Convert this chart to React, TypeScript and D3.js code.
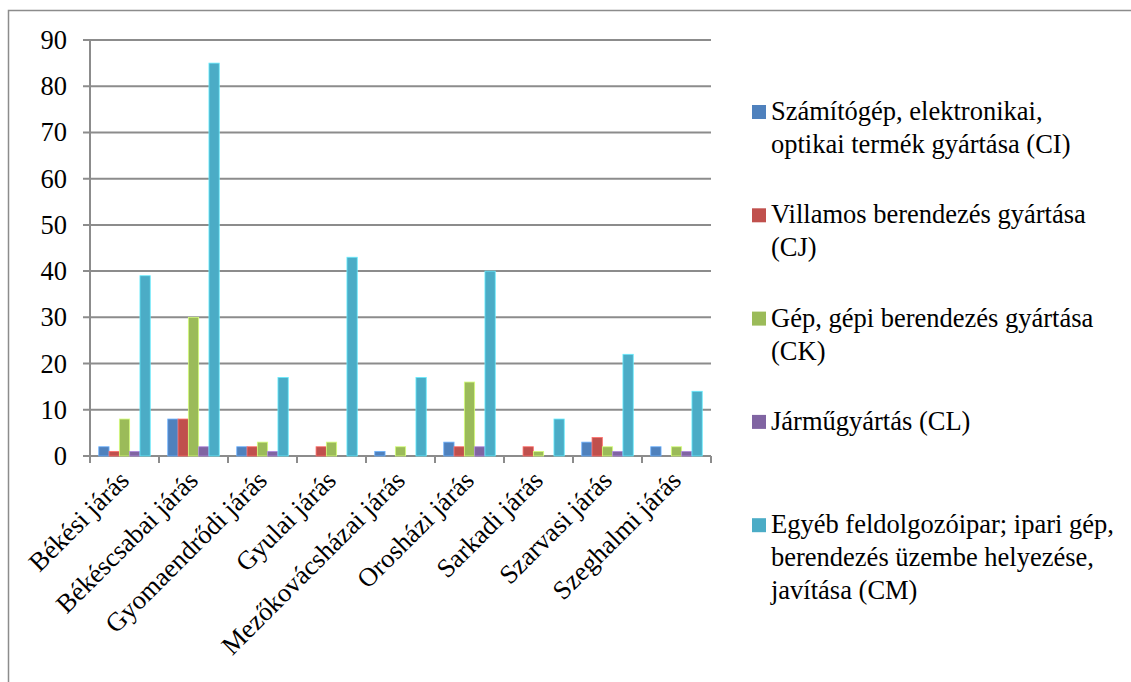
import * as d3 from "d3";

// járások (districts) along the x axis
const categories = [
  "Békési járás",
  "Békéscsabai járás",
  "Gyomaendrődi járás",
  "Gyulai járás",
  "Mezőkovácsházai járás",
  "Orosházi járás",
  "Sarkadi járás",
  "Szarvasi járás",
  "Szeghalmi járás",
];

const seriesNames = [
  "Számítógép, elektronikai,\noptikai termék gyártása (CI)",
  "Villamos berendezés gyártása\n(CJ)",
  "Gép, gépi berendezés gyártása\n(CK)",
  "Járműgyártás (CL)",
  "Egyéb feldolgozóipar; ipari gép,\nberendezés üzembe helyezése,\njavítása (CM)",
];

const ciValues = [2, 8, 2, 0, 1, 3, 0, 3, 2];
const cjValues = [1, 8, 2, 2, 0, 2, 2, 4, 0];
const ckValues = [8, 30, 3, 3, 2, 16, 1, 2, 2];
const clValues = [1, 2, 1, 0, 0, 2, 0, 1, 1];
const cmValues = [39, 85, 17, 43, 17, 40, 8, 22, 14];

const yTicks = [0, 10, 20, 30, 40, 50, 60, 70, 80, 90];

const colors = ["#4F81BD", "#C0504D", "#9BBB59", "#8064A2", "#4BACC6"];

const W = 1131;
const H = 682;
const textStyle = { fontFamily: '"Liberation Serif"', fontSize: 26.5 };
const GRID = "#8c8c8c";

export default function App() {
  const series = [ciValues, cjValues, ckValues, clValues, cmValues];

  const left = 90,
    right = 711,
    top = 40,
    bottom = 456;

  const x = d3.scaleBand().domain(categories).range([left, right]);
  const inner = d3
    .scaleBand<number>()
    .domain(d3.range(series.length))
    .range([0, x.bandwidth()])
    .paddingInner(0)
    .paddingOuter(0.85);
  const y = d3.scaleLinear().domain([0, 90]).range([bottom, top]);

  const xEdges = categories.map((c) => x(c) as number).concat([right]);

  return (
    <svg
      className="chart"
      width={W}
      height={H}
      style={{ position: "absolute", left: 0, top: 0, background: "#fff" }}
    >
      <style>{`svg.chart text, svg.chart tspan { font-family: "Liberation Serif", "Times New Roman", serif !important; }`}</style>

      {/* outer chart border */}
      <rect x={8.5} y={10.5} width={W + 20} height={H + 20} fill="none" stroke={GRID} strokeWidth={1.5} />

      {/* gridlines and y labels */}
      {yTicks.map((t) => (
        <g key={t}>
          <line x1={left - 7} x2={right} y1={y(t)} y2={y(t)} stroke={GRID} strokeWidth={2} />
          <text x={left - 23} y={y(t)} dy="0.34em" textAnchor="end" style={textStyle} fill="#000">
            {t}
          </text>
        </g>
      ))}
      <line x1={left} x2={left} y1={top} y2={bottom + 7} stroke={GRID} strokeWidth={2} />
      {xEdges.map((e, i) => (
        <line key={i} x1={e} x2={e} y1={bottom} y2={bottom + 7} stroke={GRID} strokeWidth={2} />
      ))}

      {/* bars */}
      {series.map((vals, si) => (
        <g key={si}>
          {vals.map((v, i) =>
            v > 0 ? (
              <rect
                key={i}
                x={(x(categories[i]) as number) + (inner(si) as number)}
                width={inner.bandwidth()}
                y={y(v)}
                height={bottom - y(v)}
                fill={colors[si]}
                stroke={(d3.color(colors[si]) as d3.RGBColor).brighter(0.9).formatHex()}
                strokeWidth={0.8}
              />
            ) : null
          )}
        </g>
      ))}

      {/* category labels */}
      {categories.map((c) => (
        <text
          key={c}
          transform={`translate(${(x(c) as number) + x.bandwidth() / 2 + 6},482) rotate(-45)`}
          textAnchor="end"
          style={textStyle}
          fill="#000"
        >
          {c}
        </text>
      ))}

      {/* legend */}
      {seriesNames.map((name, i) => (
        <g key={name} transform={`translate(752,${120 + i * 103.3})`}>
          <rect x={0} y={-15} width={14} height={14} fill={colors[i]} />
          <text style={textStyle} fill="#000">
            {name.split("\n").map((line, j) => (
              <tspan key={j} x={19} y={j * 33}>
                {line}
              </tspan>
            ))}
          </text>
        </g>
      ))}
    </svg>
  );
}
